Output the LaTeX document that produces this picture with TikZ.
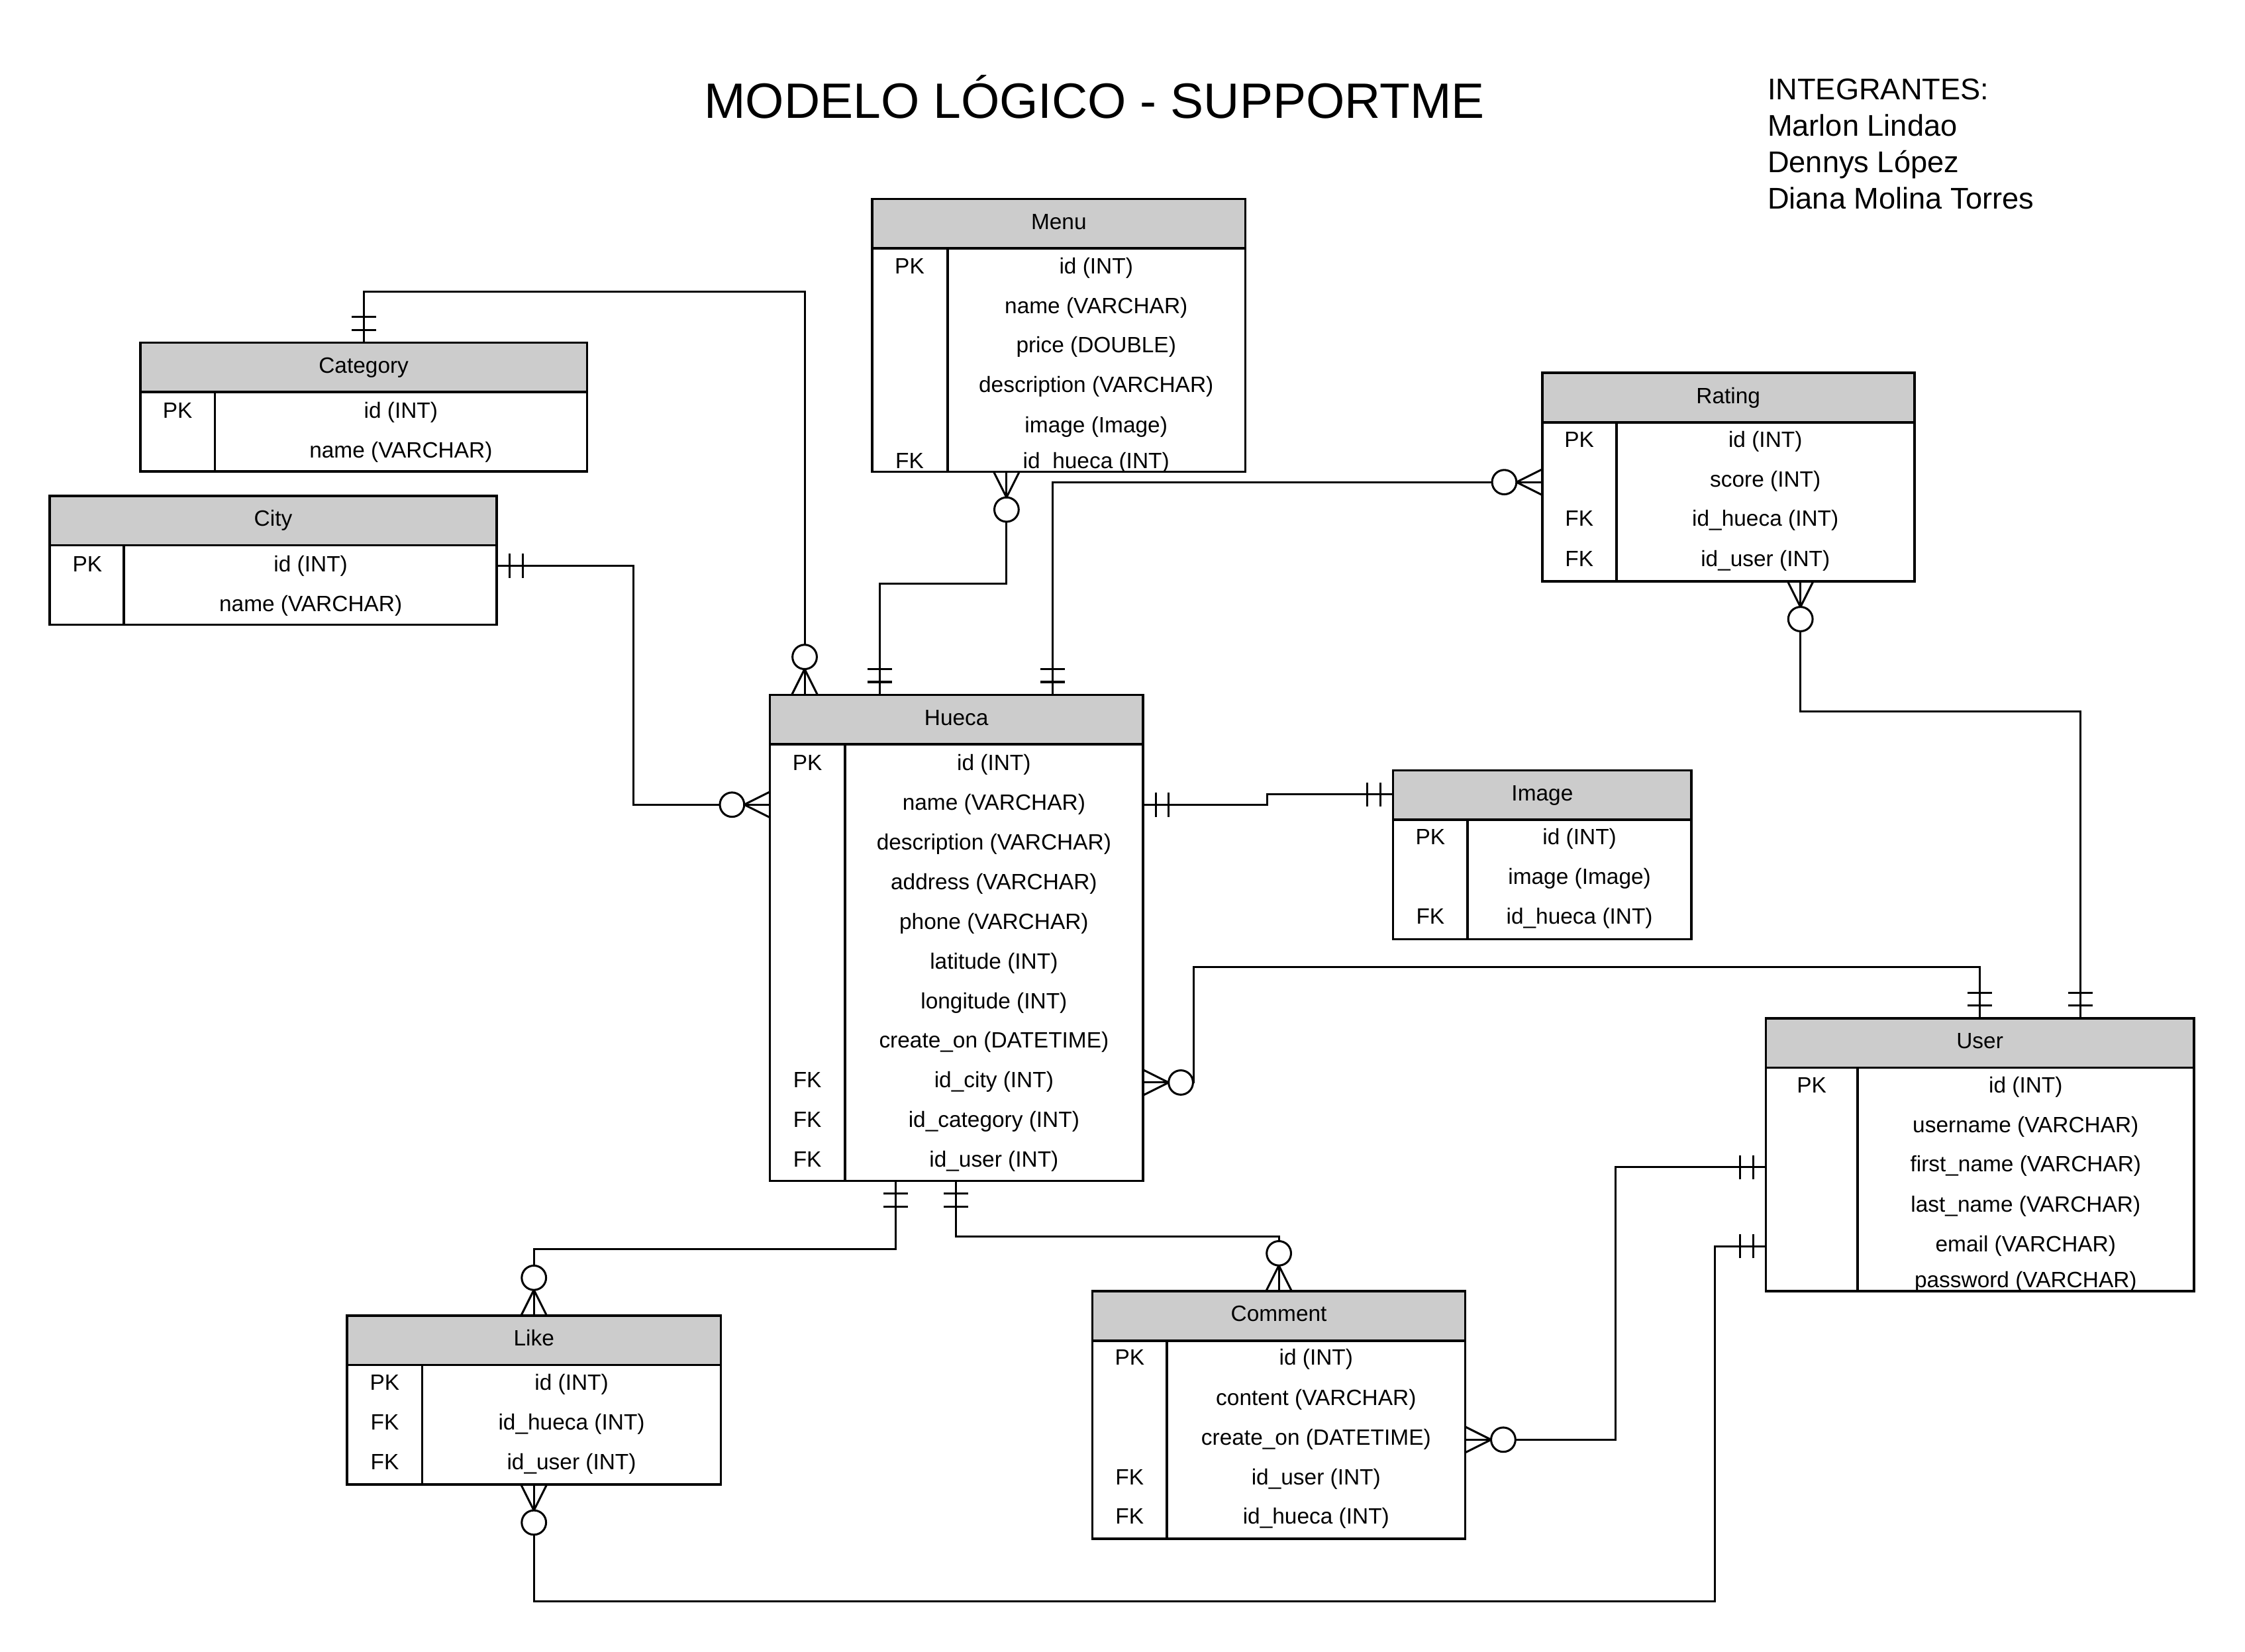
\documentclass[tikz,border=0pt]{standalone}
\usepackage{fontspec}
\setmainfont{Liberation Sans}
\usetikzlibrary{positioning}
\definecolor{headgray}{HTML}{CCCCCC}

\begin{document}
\begin{tikzpicture}[x=0.02cm, y=-0.02cm]
            \tikzstyle{head} = [draw, fill=headgray, line width=0.95pt, inner sep=0pt, outer sep=0pt, minimum height=0.69cm, anchor=north, font=\fontsize{8.8}{10}\selectfont, text height=6.3pt, text depth=1.8pt]
            \tikzstyle{body} = [draw, line width=0.95pt, inner sep=0pt, outer sep=0pt]
            \tikzstyle{cell} = [inner sep=0pt, font=\fontsize{8.8}{10}\selectfont, text height=6.3pt, text depth=0pt]
            \tikzstyle{sep} = [line width=0.95pt]
            \tikzstyle{conn} = [line width=0.8pt]
            \tikzset{
                pics/onlyone/.style = {code = {\draw[conn] (9,-8.5) -- (9,8.5) (18,-8.5) -- (18,8.5);}},
                pics/zeromany/.style = {code = {\draw[conn] (0,-9) -- (18,0) -- (0,9);
                                                \draw[conn, fill=white] (26.5,0) circle (8.5);}}
            }
            \useasboundingbox (0,0) rectangle (1568,1153.6);

            \node[anchor=base west, inner sep=0pt, font=\fontsize{19.75}{23}\selectfont] (title) at (491.5,82.5) {MODELO LÓGICO - SUPPORTME};
            \node[anchor=base west, inner sep=0pt, font=\fontsize{11.9}{14}\selectfont] (team1) at (1234.2,69.4) {INTEGRANTES:};
            \node[anchor=base west, inner sep=0pt, font=\fontsize{11.9}{14}\selectfont] (team2) at (1234.2,95.1) {Marlon Lindao};
            \node[anchor=base west, inner sep=0pt, font=\fontsize{11.9}{14}\selectfont] (team3) at (1234.2,120.7) {Dennys López};
            \node[anchor=base west, inner sep=0pt, font=\fontsize{11.9}{14}\selectfont] (team4) at (1234.2,146.0) {Diana Molina Torres};

            % Category
            \node[head, minimum width=6.24cm] (category) at (254,239.4) {Category};
            \node[body, minimum width=6.24cm, minimum height=1.11cm, below=0pt of category] (category-b) {};
            \draw[sep] ([xshift=1.04cm]category-b.north west) -- ([xshift=1.04cm]category-b.south west);
            \node[cell] (category-k1) at (124,286.7) {PK};
            \node[cell] (category-f1) at (280,286.7) {id (INT)};
            \node[cell] (category-f2) at (280,314.3) {name (VARCHAR)};

            % City
            \node[head, minimum width=6.25cm] (city) at (190.8,346.4) {City};
            \node[body, minimum width=6.25cm, minimum height=1.11cm, below=0pt of city] (city-b) {};
            \draw[sep] ([xshift=1.04cm]city-b.north west) -- ([xshift=1.04cm]city-b.south west);
            \node[cell] (city-k1) at (61,393.8) {PK};
            \node[cell] (city-f1) at (217,393.8) {id (INT)};
            \node[cell] (city-f2) at (217,421.5) {name (VARCHAR)};

            % Menu
            \node[head, minimum width=5.21cm] (menu) at (739.5,139) {Menu};
            \node[body, minimum width=5.21cm, minimum height=3.12cm, below=0pt of menu] (menu-b) {};
            \draw[sep] ([xshift=1.05cm]menu-b.north west) -- ([xshift=1.05cm]menu-b.south west);
            \node[cell] (menu-k1) at (635.3,185.7) {PK};
            \node[cell] (menu-k6) at (635.3,321.8) {FK};
            \node[cell] (menu-f1) at (765.6,185.7) {id (INT)};
            \node[cell] (menu-f2) at (765.6,213.3) {name (VARCHAR)};
            \node[cell] (menu-f3) at (765.6,240.9) {price (DOUBLE)};
            \node[cell] (menu-f4) at (765.6,268.7) {description (VARCHAR)};
            \node[cell] (menu-f5) at (765.6,296.6) {image (Image)};
            \node[cell] (menu-f6) at (765.6,321.8) {id\_hueca (INT)};

            % Rating
            \node[head, minimum width=5.2cm] (rating) at (1207.1,260.5) {Rating};
            \node[body, minimum width=5.2cm, minimum height=2.22cm, below=0pt of rating] (rating-b) {};
            \draw[sep] ([xshift=1.04cm]rating-b.north west) -- ([xshift=1.04cm]rating-b.south west);
            \node[cell] (rating-k1) at (1103,307.1) {PK};
            \node[cell] (rating-k3) at (1103,361.9) {FK};
            \node[cell] (rating-k4) at (1103,390.3) {FK};
            \node[cell] (rating-f1) at (1233,307.1) {id (INT)};
            \node[cell] (rating-f2) at (1233,334.5) {score (INT)};
            \node[cell] (rating-f3) at (1233,361.9) {id\_hueca (INT)};
            \node[cell] (rating-f4) at (1233,390.3) {id\_user (INT)};

            % Hueca
            \node[head, minimum width=5.21cm] (hueca) at (668,485.4) {Hueca};
            \node[body, minimum width=5.21cm, minimum height=6.1cm, below=0pt of hueca] (hueca-b) {};
            \draw[sep] ([xshift=1.05cm]hueca-b.north west) -- ([xshift=1.05cm]hueca-b.south west);
            \node[cell] (hueca-k1) at (563.9,532.5) {PK};
            \node[cell] (hueca-k9) at (563.9,754.3) {FK};
            \node[cell] (hueca-k10) at (563.9,782.1) {FK};
            \node[cell] (hueca-k11) at (563.9,809.8) {FK};
            \node[cell] (hueca-f1) at (694.2,532.5) {id (INT)};
            \node[cell] (hueca-f2) at (694.2,560.2) {name (VARCHAR)};
            \node[cell] (hueca-f3) at (694.2,588.0) {description (VARCHAR)};
            \node[cell] (hueca-f4) at (694.2,615.7) {address (VARCHAR)};
            \node[cell] (hueca-f5) at (694.2,643.4) {phone (VARCHAR)};
            \node[cell] (hueca-f6) at (694.2,671.2) {latitude (INT)};
            \node[cell] (hueca-f7) at (694.2,698.9) {longitude (INT)};
            \node[cell] (hueca-f8) at (694.2,726.6) {create\_on (DATETIME)};
            \node[cell] (hueca-f9) at (694.2,754.3) {id\_city (INT)};
            \node[cell] (hueca-f10) at (694.2,782.1) {id\_category (INT)};
            \node[cell] (hueca-f11) at (694.2,809.8) {id\_user (INT)};

            % Image
            \node[head, minimum width=4.17cm] (image) at (1077.2,538.1) {Image};
            \node[body, minimum width=4.17cm, minimum height=1.67cm, below=0pt of image] (image-b) {};
            \draw[sep] ([xshift=1.04cm]image-b.north west) -- ([xshift=1.04cm]image-b.south west);
            \node[cell] (image-k1) at (999,584.4) {PK};
            \node[cell] (image-k3) at (999,639.8) {FK};
            \node[cell] (image-f1) at (1103.2,584.4) {id (INT)};
            \node[cell] (image-f2) at (1103.2,612.1) {image (Image)};
            \node[cell] (image-f3) at (1103.2,639.8) {id\_hueca (INT)};

            % User
            \node[head, minimum width=5.98cm] (user) at (1382.8,711.4) {User};
            \node[body, minimum width=5.98cm, minimum height=3.12cm, below=0pt of user] (user-b) {};
            \draw[sep] ([xshift=1.28cm]user-b.north west) -- ([xshift=1.28cm]user-b.south west);
            \node[cell] (user-k1) at (1265.3,758.0) {PK};
            \node[cell] (user-f1) at (1414.8,758.0) {id (INT)};
            \node[cell] (user-f2) at (1414.8,785.7) {username (VARCHAR)};
            \node[cell] (user-f3) at (1414.8,813.1) {first\_name (VARCHAR)};
            \node[cell] (user-f4) at (1414.8,840.9) {last\_name (VARCHAR)};
            \node[cell] (user-f5) at (1414.8,869.0) {email (VARCHAR)};
            \node[cell] (user-f6) at (1414.8,893.8) {password (VARCHAR)};

            % Like
            \node[head, minimum width=5.22cm] (like) at (372.9,919.1) {Like};
            \node[body, minimum width=5.22cm, minimum height=1.67cm, below=0pt of like] (like-b) {};
            \draw[sep] ([xshift=1.05cm]like-b.north west) -- ([xshift=1.05cm]like-b.south west);
            \node[cell] (like-k1) at (268.7,965.7) {PK};
            \node[cell] (like-k2) at (268.7,993.3) {FK};
            \node[cell] (like-k3) at (268.7,1021.2) {FK};
            \node[cell] (like-f1) at (399.2,965.7) {id (INT)};
            \node[cell] (like-f2) at (399.2,993.3) {id\_hueca (INT)};
            \node[cell] (like-f3) at (399.2,1021.2) {id\_user (INT)};

            % Comment
            \node[head, minimum width=5.21cm] (comment) at (893.2,902) {Comment};
            \node[body, minimum width=5.21cm, minimum height=2.77cm, below=0pt of comment] (comment-b) {};
            \draw[sep] ([xshift=1.04cm]comment-b.north west) -- ([xshift=1.04cm]comment-b.south west);
            \node[cell] (comment-k1) at (789,948.1) {PK};
            \node[cell] (comment-k4) at (789,1031.7) {FK};
            \node[cell] (comment-k5) at (789,1059.1) {FK};
            \node[cell] (comment-f1) at (919.2,948.1) {id (INT)};
            \node[cell] (comment-f2) at (919.2,976.2) {content (VARCHAR)};
            \node[cell] (comment-f3) at (919.2,1003.8) {create\_on (DATETIME)};
            \node[cell] (comment-f4) at (919.2,1031.7) {id\_user (INT)};
            \node[cell] (comment-f5) at (919.2,1059.1) {id\_hueca (INT)};

            % relations
            \coordinate (b1) at (562,203.6);
            \coordinate (b2) at (442.2,395.3);
            \coordinate (b3) at (442.2,562.1);
            \coordinate (b4) at (703,407.5);
            \coordinate (b5) at (614.3,407.5);
            \coordinate (b6) at (735.3,336.8);
            \coordinate (b7) at (885,562.1);
            \coordinate (b8) at (885,555);
            \coordinate (b9) at (833.5,756.2);
            \coordinate (b10) at (833.5,675.6);
            \coordinate (b11) at (1257.5,496.8);
            \coordinate (b12) at (1453.1,496.8);
            \coordinate (b13) at (625.6,872.6);
            \coordinate (b14) at (667.5,863.8);
            \coordinate (b15) at (1128.4,1005.7);
            \coordinate (b16) at (1128.4,815.4);
            \coordinate (b17) at (372.9,1118.8);
            \coordinate (b18) at (1197.6,1118.8);
            \coordinate (b19) at (1197.6,870.5);

            \draw[conn] (category.north) |- (b1) -- (b1 |- hueca.north);
            \draw[conn] (b2 -| city-b.east) -- (b2) -- (b3) -- (b3 -| hueca-b.west);
            \draw[conn] (b4 |- menu-b.south) -- (b4) -- (b5) -- (b5 |- hueca.north);
            \draw[conn] (b6 |- hueca.north) -- (b6) -- (b6 -| rating-b.west);
            \draw[conn] (b7 -| hueca-b.east) -- (b7) -- (b8) -- (b8 -| image.west);
            \draw[conn] (b9 -| hueca-b.east) -- (b9) -- (b10) -| (user.north);
            \draw[conn] (b11 |- rating-b.south) -- (b11) -- (b12) -- (b12 |- user.north);
            \draw[conn] (b13 |- hueca-b.south) -- (b13) -| (like.north);
            \draw[conn] (b14 |- hueca-b.south) -- (b14) -| (comment.north);
            \draw[conn] (b15 -| comment-b.east) -- (b15) -- (b16) -- (b16 -| user-b.west);
            \draw[conn] (like-b.south) -- (b17) -- (b18) -- (b19) -- (b19 -| user-b.west);

            \pic[rotate=90] at (category.north) {onlyone};
            \pic[rotate=90] at (b1 |- hueca.north) {zeromany};
            \pic at (b2 -| city-b.east) {onlyone};
            \pic[rotate=180] at (b3 -| hueca-b.west) {zeromany};
            \pic[rotate=-90] at (b4 |- menu-b.south) {zeromany};
            \pic[rotate=90] at (b5 |- hueca.north) {onlyone};
            \pic[rotate=90] at (b6 |- hueca.north) {onlyone};
            \pic[rotate=180] at (b6 -| rating-b.west) {zeromany};
            \pic at (b7 -| hueca-b.east) {onlyone};
            \pic[rotate=180] at (b8 -| image.west) {onlyone};
            \pic at (b9 -| hueca-b.east) {zeromany};
            \pic[rotate=90] at (user.north) {onlyone};
            \pic[rotate=-90] at (b11 |- rating-b.south) {zeromany};
            \pic[rotate=90] at (b12 |- user.north) {onlyone};
            \pic[rotate=-90] at (b13 |- hueca-b.south) {onlyone};
            \pic[rotate=90] at (like.north) {zeromany};
            \pic[rotate=-90] at (b14 |- hueca-b.south) {onlyone};
            \pic[rotate=90] at (comment.north) {zeromany};
            \pic at (b15 -| comment-b.east) {zeromany};
            \pic[rotate=180] at (b16 -| user-b.west) {onlyone};
            \pic[rotate=-90] at (like-b.south) {zeromany};
            \pic[rotate=180] at (b19 -| user-b.west) {onlyone};
\end{tikzpicture}
\end{document}
